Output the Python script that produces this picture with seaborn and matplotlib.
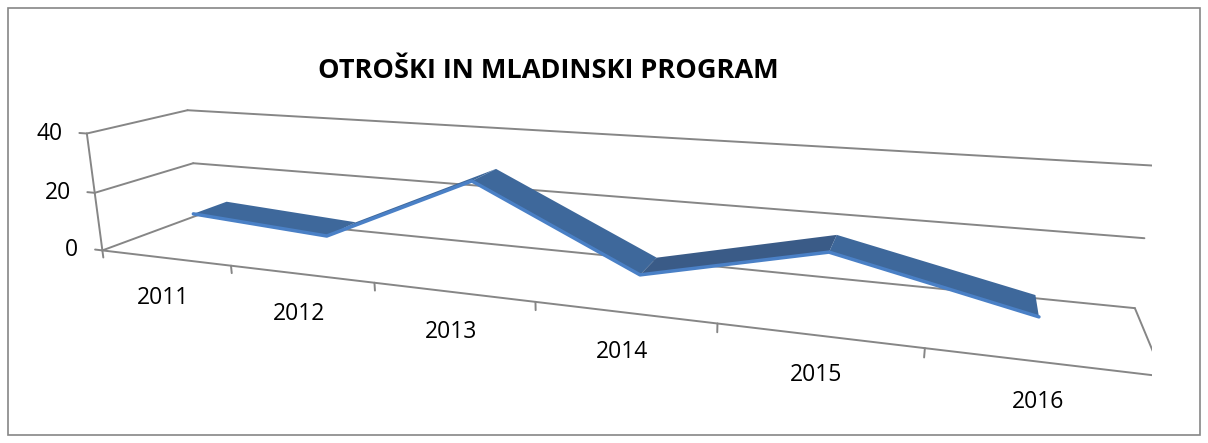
import numpy as np
import matplotlib
matplotlib.use('Agg')
import matplotlib.pyplot as plt
import seaborn as sns
from matplotlib.patches import Rectangle
from mpl_toolkits.mplot3d import proj3d

# data
years = ['2011', '2012', '2013', '2014', '2015', '2016']
values = [11, 8, 30, 6, 18, 6]
z_ticks = [0, 20, 40]

sns.set_theme(style='white')
plt.rcParams['font.family'] = ['Open Sans', 'DejaVu Sans']

grey = '#868686'
ribbon_top = '#3E689B'
ribbon_dark = '#3A5B87'
ribbon_edge = '#4A80C6'

W, H = 12.08, 4.43
fig = plt.figure(figsize=(W, H), dpi=100)
# 3d axes are always drawn square, so give it a square box that covers the figure
h = W / H
ax = fig.add_axes([-0.046, 0.5 - h / 2 - 0.018, 1.0, h], projection='3d')
ax.computed_zorder = False
ax.set_proj_type('persp', focal_length=0.16)
ax.view_init(elev=15, azim=-69, roll=0.75)
ax.set_box_aspect((6, 0.92, 0.76), zoom=0.86)
ax.set_axis_off()

x = np.arange(len(years))
x_lo, x_hi = -0.5, len(years) - 0.5
z_hi = z_ticks[-1]
ax.set_xlim(x_lo, x_hi)
ax.set_ylim(0, 1)
ax.set_zlim(0, z_hi)

# walls: horizontal gridlines on side and back wall
for z in z_ticks:
    ax.plot([x_lo, x_lo], [0, 1], [z, z], color=grey, lw=1.4, zorder=1)
    ax.plot([x_lo, x_hi], [1, 1], [z, z], color=grey, lw=1.4, zorder=1)
    ax.plot([x_lo - 0.06, x_lo], [0, 0], [z, z], color=grey, lw=1.4, zorder=1)

# front vertical axis, floor edges
ax.plot([x_lo, x_lo], [0, 0], [0, z_hi], color=grey, lw=1.4, zorder=1)
ax.plot([x_lo, x_hi], [0, 0], [0, 0], color=grey, lw=1.4, zorder=1)
ax.plot([x_hi, x_hi], [0, 1], [0, 0], color=grey, lw=1.4, zorder=1)
for b in np.arange(x_lo, x_hi + 1):
    ax.plot([b, b], [0, 0], [0, -2.5], color=grey, lw=1.4, zorder=1)

# ribbon
depth = np.array([0.32, 0.68])
X, Y = np.meshgrid(x, depth)
Z = np.tile(values, (2, 1))
fc = np.empty(X.shape, dtype=object)
fc[:] = ribbon_top
fc[:, 3] = ribbon_dark
ax.plot_surface(X, Y, Z, facecolors=fc, shade=False, linewidth=0, antialiased=True, zorder=3)
ax.plot(x, [depth[0]] * len(x), values, color=ribbon_edge, lw=2.5, zorder=4)

# tick labels as plain 2d text, placed at the projected axis points
M = ax.get_proj()
for z in z_ticks:
    px, py, _ = proj3d.proj_transform(x_lo, 0, z, M)
    ax.annotate(str(z), (px, py), xycoords='data', xytext=(-24, 0), textcoords='offset pixels',
                ha='right', va='center', fontsize=16.5, color='black')
for i, yr in enumerate(years):
    px, py, _ = proj3d.proj_transform(i, 0, 0, M)
    ax.annotate(yr, (px, py), xycoords='data', xytext=(-2, -40), textcoords='offset pixels',
                ha='center', va='center', fontsize=16.5, color='black')

fig.text(0.454, 0.84, 'OTROŠKI IN MLADINSKI PROGRAM', ha='center', va='center',
         fontsize=19.5, fontweight='bold', color='black')
fig.patches.append(Rectangle((0.007, 0.018), 0.986, 0.964, transform=fig.transFigure,
                             fill=False, edgecolor=grey, lw=1.2))

fig.savefig('out.png', dpi=100)
